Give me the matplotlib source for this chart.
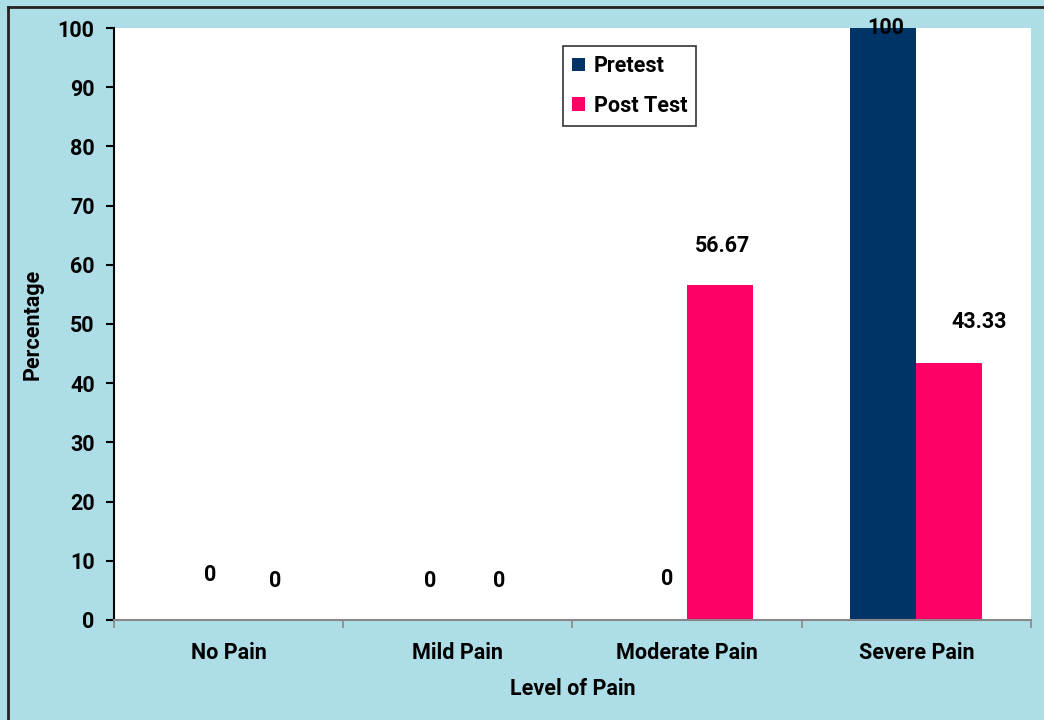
import matplotlib
matplotlib.use("Agg")
import matplotlib.pyplot as plt
from matplotlib.lines import Line2D
from matplotlib.ticker import FixedLocator
import numpy as np

# Pain levels and percentage of subjects in each group
categories = ["No Pain", "Mild Pain", "Moderate Pain", "Severe Pain"]
pretest = [0, 0, 0, 100]
post_test = [0, 0, 56.67, 43.33]
pretest_labels = ["0", "0", "0", "100"]
post_test_labels = ["0", "0", "56.67", "43.33"]
y_ticks = [0, 10, 20, 30, 40, 50, 60, 70, 80, 90, 100]

navy = "#003366"
pink = "#ff0066"
backdrop = "#addde6"

plt.rcParams["font.family"] = ["Roboto", "DejaVu Sans"]
plt.rcParams["font.weight"] = "bold"
FS = 15.5

fig = plt.figure(figsize=(10.44, 7.2), dpi=100, facecolor=backdrop)
ax = fig.add_axes([0.1092, 0.1389, 0.8783, 0.8222])
ax.set_facecolor("white")

x = np.arange(len(categories))
width = 0.288
bars_pre = ax.bar(x - width / 2, pretest, width, color=navy, label="Pretest")
bars_post = ax.bar(x + width / 2, post_test, width, color=pink, label="Post Test")

# hand-placed value labels (pixel offsets from the top-centre of each bar)
pre_offsets = [(15, 45), (5, 39), (13, 41), (2, 0)]
post_offsets = [(13, 39), (8, 39), (2, 39), (30, 41)]
for bar, text, (dx, dy) in zip(bars_pre, pretest_labels, pre_offsets):
    ax.annotate(text, (bar.get_x() + bar.get_width() / 2, bar.get_height()),
                xytext=(dx, dy), textcoords="offset pixels",
                ha="center", va="center", fontsize=FS, fontweight="bold",
                annotation_clip=False)
for bar, text, (dx, dy) in zip(bars_post, post_test_labels, post_offsets):
    ax.annotate(text, (bar.get_x() + bar.get_width() / 2, bar.get_height()),
                xytext=(dx, dy), textcoords="offset pixels",
                ha="center", va="center", fontsize=FS, fontweight="bold",
                annotation_clip=False)

ax.set_xlim(-0.5, len(categories) - 0.5)
ax.set_ylim(0, 100)
ax.set_yticks(y_ticks)
ax.set_yticklabels([str(t) for t in y_ticks], fontsize=FS, fontweight="bold")
ax.set_xticks(x)
ax.set_xticklabels(categories, fontsize=FS, fontweight="bold")
ax.xaxis.set_minor_locator(FixedLocator(np.arange(-0.5, len(categories), 1.0)))
ax.tick_params(axis="x", which="major", length=0, pad=16)
ax.tick_params(axis="x", which="minor", length=6, color="#888888", width=1.2)
ax.tick_params(axis="y", length=6, width=1.5, color="black", pad=8)

for side in ("top", "right"):
    ax.spines[side].set_visible(False)
ax.spines["left"].set_linewidth(1.5)
ax.spines["left"].set_color("black")
ax.spines["bottom"].set_linewidth(1.5)
ax.spines["bottom"].set_color("#888888")

ax.set_ylabel("Percentage", fontsize=FS, fontweight="bold", labelpad=10)
ax.set_xlabel("Level of Pain", fontsize=FS, fontweight="bold", labelpad=10)

leg = ax.legend(loc="upper left", bbox_to_anchor=(0.4896, 0.9696), fontsize=FS,
                frameon=True, fancybox=False, edgecolor="black",
                handlelength=0.6, handleheight=0.6, handletextpad=0.4,
                borderpad=0.42, labelspacing=0.82, borderaxespad=0)
leg.get_frame().set_linewidth(1.2)
for t in leg.get_texts():
    t.set_fontweight("bold")

# outer frame of the chart area
fig.add_artist(Line2D([0.0077, 1.0], [0.9903, 0.9903], color="#222222", lw=2,
                      transform=fig.transFigure))
fig.add_artist(Line2D([0.0077, 0.0077], [0.0, 0.9903], color="#222222", lw=2,
                      transform=fig.transFigure))

fig.savefig("out.png", dpi=100, facecolor=backdrop)
